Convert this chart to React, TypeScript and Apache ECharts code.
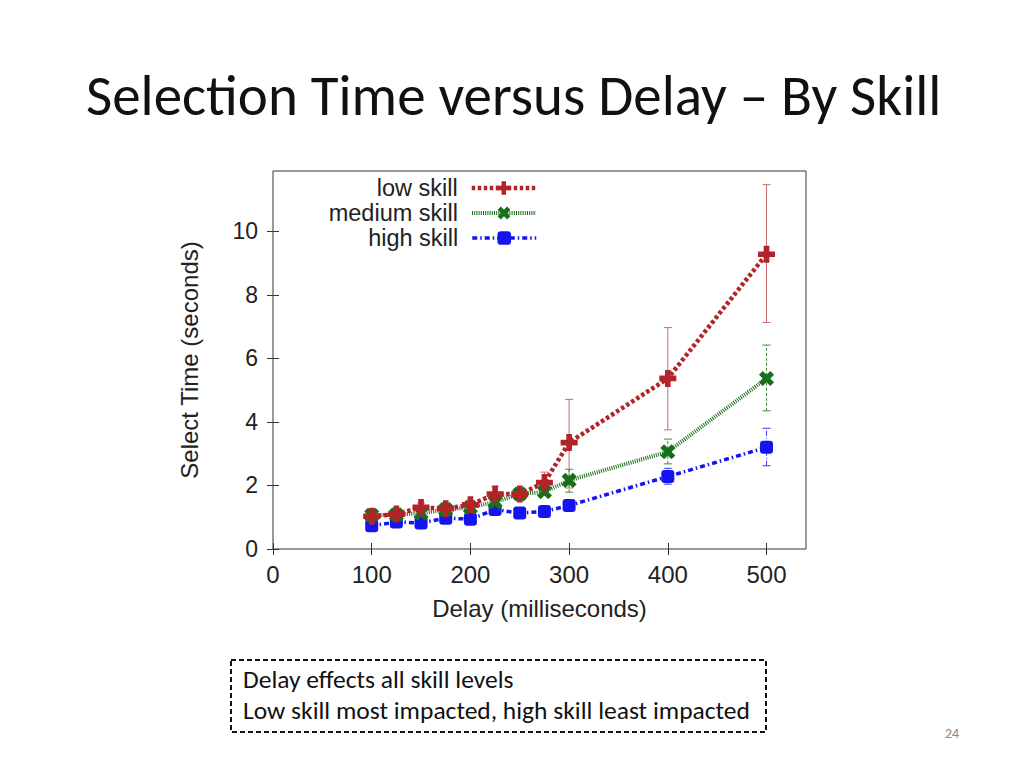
import React, { useEffect, useRef } from "react";
import * as echarts from "echarts";

const delays = [100, 125, 150, 175, 200, 225, 250, 275, 300, 400, 500];
const lowMean = [1.03, 1.1, 1.31, 1.27, 1.39, 1.73, 1.73, 2.09, 3.35, 5.37, 9.28];
const lowLo = [0.95, 1.0, 1.15, 1.15, 1.28, 1.48, 1.6, 1.78, 1.92, 3.75, 7.13];
const lowHi = [1.1, 1.2, 1.45, 1.38, 1.5, 1.97, 1.85, 2.42, 4.71, 6.97, 11.47];
const medMean = [1.06, 1.08, 1.13, 1.24, 1.31, 1.48, 1.73, 1.8, 2.16, 3.06, 5.37];
const medLo = [1.0, 1.0, 1.05, 1.15, 1.2, 1.38, 1.6, 1.7, 1.79, 2.68, 4.35];
const medHi = [1.12, 1.15, 1.22, 1.32, 1.42, 1.6, 1.85, 1.95, 2.51, 3.46, 6.42];
const highMean = [0.73, 0.85, 0.82, 0.97, 0.94, 1.24, 1.13, 1.18, 1.37, 2.28, 3.2];
const highLo = [0.66, 0.78, 0.74, 0.9, 0.87, 1.15, 1.06, 1.1, 1.28, 2.04, 2.62];
const highHi = [0.8, 0.92, 0.9, 1.04, 1.01, 1.32, 1.2, 1.26, 1.46, 2.54, 3.8];

const xTicks = [0, 100, 200, 300, 400, 500];
const yTicks = [0, 2, 4, 6, 8, 10];

const seriesNames = ["low skill", "medium skill", "high skill"];
const titleText = "Selection Time versus Delay \u2013 By Skill";
const noteLines = ["Delay effects all skill levels", "Low skill most impacted, high skill least impacted"];
const pageNumber = "24";

const RED = "#b3242a";
const GREEN = "#17701a";
const BLUE = "#1414f0";

const PLUS = "path://M-1,-3H1V-1H3V1H1V3H-1V1H-3V-1H-1Z";

function errorSeries(name: string, lo: number[], hi: number[], color: string, dash: any) {
  return {
    type: "custom",
    name: name + " err",
    z: 1,
    silent: true,
    encode: { x: 0, y: [1, 2] },
    data: delays.map((d, i) => [d, lo[i], hi[i]]),
    renderItem: (params: any, api: any) => {
      const x = api.value(0);
      const pLo = api.coord([x, api.value(1)]);
      const pHi = api.coord([x, api.value(2)]);
      const w = 4;
      const style = { stroke: color, lineWidth: 1, lineDash: dash, fill: null };
      return {
        type: "group",
        children: [
          { type: "line", shape: { x1: pLo[0], y1: pLo[1], x2: pHi[0], y2: pHi[1] }, style },
          { type: "line", shape: { x1: pHi[0] - w, y1: pHi[1], x2: pHi[0] + w, y2: pHi[1] }, style: { stroke: color, lineWidth: 1 } },
          { type: "line", shape: { x1: pLo[0] - w, y1: pLo[1], x2: pLo[0] + w, y2: pLo[1] }, style: { stroke: color, lineWidth: 1 } },
        ],
      };
    },
  };
}

export default function App() {
  const ref = useRef<HTMLDivElement>(null);
  useEffect(() => {
    if (!ref.current) return;
    const chart = echarts.init(ref.current, undefined, { renderer: "svg" });
    const axisText = { color: "#222", fontFamily: "Liberation Sans" };
    const legendBase = {
      orient: "horizontal",
      align: "right",
      itemWidth: 64,
      itemHeight: 17,
      textStyle: { color: "#222", fontFamily: "Liberation Sans", fontSize: 23.5, padding: [0, 9, 0, 0] },
      selectedMode: false,
    };
    const tickStyle = { inside: true, length: 6, lineStyle: { color: "#333" } };
    chart.setOption({
      animation: false,
      backgroundColor: "#ffffff",
      grid: {
        left: 273,
        right: 218,
        top: 171,
        bottom: 219,
        show: true,
        borderColor: "#333",
        borderWidth: 1,
        backgroundColor: "transparent",
      },
      legend: [
        { ...legendBase, data: [{ name: seriesNames[0], lineStyle: { width: 4.5 } }], right: 481, top: 171 },
        { ...legendBase, data: [{ name: seriesNames[1], lineStyle: { width: 4 } }], right: 481, top: 196 },
        { ...legendBase, data: [{ name: seriesNames[2], lineStyle: { width: 3.5 } }], right: 481, top: 221 },
      ],
      xAxis: [
        {
          type: "value",
          min: 0,
          max: 540,
          name: "Delay (milliseconds)",
          nameLocation: "middle",
          nameGap: 47,
          nameTextStyle: { ...axisText, fontSize: 24 },
          axisLine: { show: false },
          axisTick: { ...tickStyle, customValues: xTicks },
          splitLine: { show: false },
          axisLabel: { ...axisText, fontSize: 24, margin: 13, customValues: xTicks },
        },
        {
          type: "value",
          position: "top",
          min: 0,
          max: 540,
          axisLine: { show: false },
          axisTick: { ...tickStyle, customValues: xTicks },
          splitLine: { show: false },
          axisLabel: { show: false },
        },
      ],
      yAxis: [
        {
          type: "value",
          min: 0,
          max: 11.9,
          name: "Select Time (seconds)",
          nameLocation: "middle",
          nameGap: 72,
          nameTextStyle: { ...axisText, fontSize: 24 },
          axisLine: { show: false },
          axisTick: { ...tickStyle, customValues: yTicks },
          splitLine: { show: false },
          axisLabel: { ...axisText, fontSize: 23, margin: 15, customValues: yTicks },
        },
        {
          type: "value",
          position: "right",
          min: 0,
          max: 11.9,
          axisLine: { show: false },
          axisTick: { ...tickStyle, customValues: yTicks },
          splitLine: { show: false },
          axisLabel: { show: false },
        },
      ],
      series: [
        errorSeries(seriesNames[0], lowLo, lowHi, "#cc6a6a", null),
        errorSeries(seriesNames[1], medLo, medHi, "#3c8a3c", [3, 2]),
        errorSeries(seriesNames[2], highLo, highHi, "#3a3af0", [5, 2, 1, 2]),
        {
          type: "line",
          name: seriesNames[2],
          z: 3,
          data: delays.map((d, i) => [d, highMean[i]]),
          symbol: "roundRect",
          symbolSize: 13,
          showAllSymbol: true,
          lineStyle: { color: BLUE, width: 3.5, type: [5, 3, 1.5, 3] },
          itemStyle: { color: BLUE },
        },
        {
          type: "line",
          name: seriesNames[1],
          z: 4,
          data: delays.map((d, i) => [d, medMean[i]]),
          symbol: PLUS,
          symbolRotate: 45,
          symbolSize: 16,
          showAllSymbol: true,
          lineStyle: { color: GREEN, width: 4, type: [1, 1.2] },
          itemStyle: { color: GREEN },
        },
        {
          type: "line",
          name: seriesNames[0],
          z: 5,
          data: delays.map((d, i) => [d, lowMean[i]]),
          symbol: PLUS,
          symbolSize: 17,
          showAllSymbol: true,
          lineStyle: { color: RED, width: 4.5, type: [3.5, 2.5] },
          itemStyle: { color: RED },
        },
      ],
      graphic: [
        {
          type: "text",
          left: 86,
          top: 67,
          style: {
            text: titleText,
            fontFamily: "Carlito, Lato, sans-serif",
            fontSize: 57,
            fill: "#111",
          },
        },
        {
          type: "rect",
          shape: { x: 231, y: 660, width: 535, height: 72 },
          style: { fill: "none", stroke: "#111", lineWidth: 2, lineDash: [5, 3] },
        },
        {
          type: "text",
          left: 243,
          top: 666,
          style: {
            text: noteLines[0],
            fontFamily: "Carlito, Lato, sans-serif",
            fontSize: 25.5,
            fill: "#111",
          },
        },
        {
          type: "text",
          left: 243,
          top: 697,
          style: {
            text: noteLines[1],
            fontFamily: "Carlito, Lato, sans-serif",
            fontSize: 25.5,
            fill: "#111",
          },
        },
        {
          type: "text",
          left: 945,
          top: 726,
          style: {
            text: pageNumber,
            fontFamily: "Carlito, Lato, sans-serif",
            fontSize: 14,
            fill: "#888",
          },
        },
      ],
    });
    return () => chart.dispose();
  }, []);
  return (
    <div
      ref={ref}
      style={{ position: "fixed", left: 0, top: 0, width: 1024, height: 768, background: "#fff" }}
    />
  );
}
